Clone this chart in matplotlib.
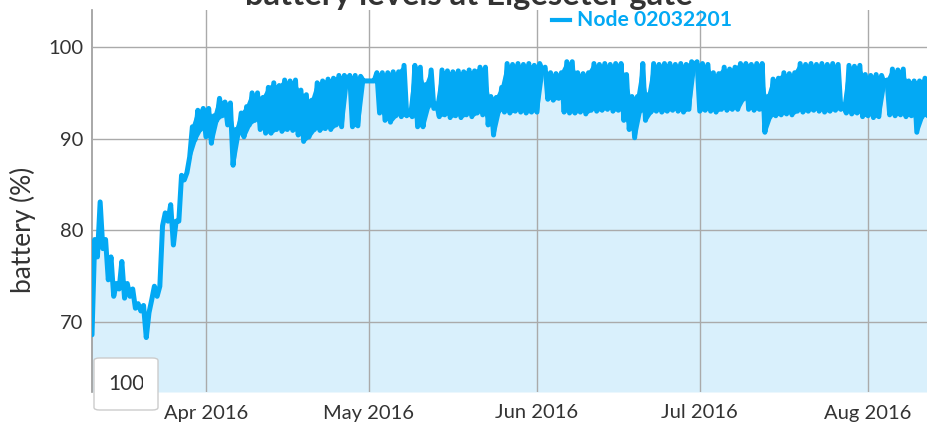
import numpy as np
import pandas as pd
import matplotlib
matplotlib.use("Agg")
import matplotlib.pyplot as plt
import matplotlib.dates as mdates
from matplotlib.patches import FancyBboxPatch, Rectangle

plt.rcParams['font.family'] = ['Lato', 'DejaVu Sans']
plt.rcParams['path.simplify'] = False

# ---- data: daily high / low battery readings (%), starting 2016-03-11 ----
start_date = "2016-03-11"
daily_high = [
    79.0, 83.1, 79.0, 77.1, 74.2, 76.6, 74.2, 73.6, 72.0, 71.8,
    71.0, 73.9, 73.9, 81.9, 82.8, 81.0, 86.0, 86.3, 91.3, 93.1,
    93.3, 93.3, 92.5, 94.4, 94.0, 93.9, 91.0, 92.8, 93.5, 95.0,
    95.0, 94.5, 95.6, 96.1, 95.8, 96.4, 96.3, 96.4, 95.3, 94.8,
    94.2, 96.1, 96.3, 96.5, 96.6, 96.9, 96.9, 96.9, 96.9, 96.8,
    96.3, 96.3, 97.2, 97.2, 97.2, 97.3, 97.3, 98.0, 93.0, 98.0,
    97.8, 95.9, 97.5, 93.8, 97.5, 97.4, 97.3, 97.4, 97.3, 97.5,
    97.4, 97.8, 97.8, 94.6, 94.5, 95.6, 98.2, 98.1, 98.2, 98.1,
    98.2, 98.0, 98.2, 97.8, 97.2, 97.1, 97.2, 98.4, 98.4, 97.2,
    97.1, 97.2, 98.2, 98.1, 98.2, 98.1, 98.2, 98.2, 97.0, 94.6,
    94.6, 98.2, 94.8, 98.2, 98.1, 98.2, 98.2, 98.1, 98.2, 98.1,
    98.4, 98.4, 98.2, 98.1, 97.2, 97.1, 97.8, 97.6, 97.8, 98.2,
    98.2, 98.1, 98.2, 98.2, 94.6, 96.5, 96.6, 97.2, 97.1, 97.2,
    98.2, 98.1, 98.2, 98.1, 98.2, 98.1, 98.2, 98.1, 93.7, 98.0,
    97.9, 98.0, 97.0, 96.9, 97.0, 96.9, 96.4, 97.6, 97.5, 97.6,
    96.3, 96.3, 96.3, 96.6, 96.5,
]
daily_low = [
    68.6, 77.1, 78.0, 74.6, 72.8, 73.6, 72.6, 72.8, 71.5, 71.2,
    68.3, 72.4, 72.8, 80.5, 81.0, 78.4, 81.0, 85.5, 88.0, 89.9,
    91.0, 90.2, 89.5, 92.0, 92.5, 91.5, 87.1, 90.5, 90.2, 91.5,
    92.0, 91.0, 90.6, 90.6, 91.0, 90.8, 91.0, 90.9, 90.4, 89.7,
    90.2, 91.0, 90.9, 91.1, 91.0, 91.5, 91.3, 96.4, 91.3, 91.4,
    96.3, 96.3, 96.3, 92.8, 92.0, 91.8, 92.5, 92.4, 92.5, 92.4,
    91.3, 91.3, 93.5, 93.3, 92.4, 92.6, 92.3, 92.5, 92.3, 92.6,
    92.4, 92.8, 92.6, 91.5, 90.4, 93.0, 92.9, 92.8, 93.0, 92.9,
    92.8, 92.9, 92.9, 97.3, 94.3, 94.2, 94.4, 92.9, 92.8, 92.8,
    92.9, 92.7, 93.1, 93.0, 93.1, 93.2, 93.0, 93.1, 92.0, 91.0,
    90.1, 93.0, 92.0, 92.9, 93.0, 92.9, 93.0, 93.1, 93.0, 92.9,
    93.2, 98.0, 93.0, 93.1, 93.0, 92.9, 93.2, 93.1, 93.2, 93.2,
    94.3, 93.2, 93.1, 93.2, 90.7, 92.4, 92.5, 92.6, 92.7, 92.6,
    93.0, 92.9, 93.0, 93.1, 93.0, 92.9, 93.0, 93.1, 93.2, 92.8,
    92.7, 92.8, 92.4, 92.5, 92.3, 92.4, 96.0, 92.6, 92.5, 92.6,
    92.4, 92.5, 90.7, 92.4, 92.5,
]
series_name = "Node 02032201"
title = "battery levels at Elgeseter gate"
y_label = "battery (%)"
y_ticks = [70, 80, 90, 100]
x_ticks = ["2016-04-01", "2016-05-01", "2016-06-01", "2016-07-01", "2016-08-01"]
selector_label = "100"
dense_from_day = 18   # from here on readings swing within the day

# ---- build 12-hourly series: low then high each day ----
values = np.column_stack([daily_low, daily_high]).ravel()
times = pd.date_range(start_date, periods=len(values), freq="12h")
day_times = pd.date_range(start_date, periods=len(daily_low), freq="D") + pd.Timedelta("6h")
lo_arr = np.array(daily_low)
hi_arr = np.array(daily_high)
dense = np.arange(len(daily_low)) >= dense_from_day

W, H = 927, 425
fig = plt.figure(figsize=(W / 100, H / 100), dpi=100)
ax = fig.add_axes([92 / W, 1 - 392 / H, 1 - 92 / W, (392 - 10) / H])

line_c = "#03A9F4"
fill_c = "#D9F0FC"
text_c = "#333333"
ymin, ymax = 62.36, 104.04

ax.fill_between(times, values, ymin, color=fill_c, lw=0, zorder=1)
# the dense daily swings render as a solid band between daily low and high
ax.fill_between(day_times, lo_arr, hi_arr, where=dense, color=line_c,
                lw=0, zorder=3)
ax.plot(times, values, color=line_c, lw=3.6, solid_joinstyle="round",
        solid_capstyle="round", zorder=3)

ax.set_ylim(ymin, ymax)
ax.set_xlim(pd.Timestamp("2016-03-11"), pd.Timestamp("2016-08-11 21:00"))

ax.set_yticks(y_ticks)
ax.set_xticks(pd.to_datetime(x_ticks))
ax.xaxis.set_major_formatter(mdates.DateFormatter("%b %Y"))
ax.grid(True, color="#aaaaaa", lw=1, zorder=2)
ax.set_axisbelow(False)
for s in ["top", "right", "bottom"]:
    ax.spines[s].set_visible(False)
ax.spines["left"].set_color("#999999")
ax.spines["left"].set_linewidth(1.2)
ax.tick_params(length=0, labelsize=14.5, colors=text_c)
ax.tick_params(axis="y", pad=6)
ax.tick_params(axis="x", pad=9)
ax.set_ylabel(y_label, fontsize=19, color=text_c)
ax.yaxis.set_label_coords(-(92 - 36) / (W - 92), (392 - 230) / (392 - 10))

for gl in ax.get_xgridlines() + ax.get_ygridlines():
    gl.set_zorder(2)

fig.text(469 / W, 1 - 5 / H, title, ha="center", va="baseline",
         fontsize=23.6, fontweight="bold", color=text_c)

# legend
fig.add_artist(plt.Line2D([552 / W, 570 / W], [1 - 20 / H, 1 - 20 / H],
                          color=line_c, lw=3))
fig.text(577 / W, 1 - 20 / H, series_name, ha="left", va="center",
         fontsize=15.2, fontweight="bold", color=line_c)

# range selector box
box = FancyBboxPatch((94 / W, 1 - 410 / H), 64 / W, 52 / H,
                     boxstyle="round,pad=0,rounding_size=0.006",
                     transform=fig.transFigure, facecolor="white",
                     edgecolor="#cccccc", lw=1, zorder=10)
fig.add_artist(box)
clip = Rectangle((94 / W, 1 - 410 / H), (143 - 94) / W, 52 / H,
                 transform=fig.transFigure)
t = fig.text(108 / W, 1 - 384 / H, selector_label, ha="left", va="center",
             fontsize=15, color=text_c, zorder=11)
t.set_clip_path(clip)

fig.savefig("out.png", dpi=100)
